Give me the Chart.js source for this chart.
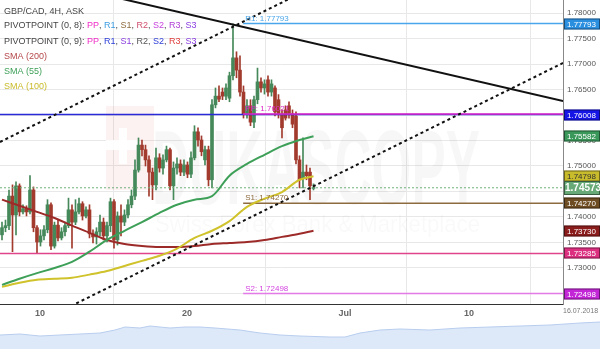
<!DOCTYPE html>
<html>
<head>
<meta charset="utf-8">
<script src="https://cdn.jsdelivr.net/npm/chart.js@4.4.1/dist/chart.umd.min.js"></script>
<style>
  html, body { margin: 0; padding: 0; background: #fff; }
  #wrap { position: relative; width: 600px; height: 349px; overflow: hidden; }
  #main { position: absolute; left: 0; top: 0; }
  #nav { position: absolute; left: 0; top: 318px; }
</style>
</head>
<body>
<div id="wrap">
  <canvas id="main" width="600" height="318" style="width:600px;height:318px"></canvas>
  <canvas id="nav" width="600" height="31" style="width:600px;height:31px"></canvas>
</div>
<script>
// GBP/CAD 4H candles (one per 4 hours)
const opens = [
  1.7365,1.7379,1.7383,1.7441,1.7404,1.7461,1.7410,1.7416,1.7410,1.7453,
  1.7379,1.7351,1.7363,1.7375,1.7424,1.7343,1.7384,1.7359,1.7371,1.7383,
  1.7414,1.7390,1.7410,1.7426,1.7402,1.7414,1.7367,1.7361,1.7371,1.7390,
  1.7363,1.7383,1.7430,1.7355,1.7402,1.7390,1.7404,1.7424,1.7441,1.7492,
  1.7541,1.7532,1.7512,1.7488,1.7463,1.7516,1.7496,1.7512,1.7532,1.7461,
  1.7496,1.7504,1.7488,1.7502,1.7484,1.7516,1.7567,1.7551,1.7512,1.7532,
  1.7473,1.7620,1.7637,1.7645,1.7637,1.7633,1.7677,1.7712,1.7688,1.7645,
  1.7602,1.7618,1.7586,1.7630,1.7665,1.7653,1.7669,1.7645,1.7653,1.7630,
  1.7602,1.7610,1.7618,1.7602,1.7598,1.7512,1.7477,1.7488,1.7488,1.7456
];
const highs = [
  1.7390,1.7394,1.7453,1.7463,1.7469,1.7465,1.7424,1.7422,1.7481,1.7459,
  1.7383,1.7375,1.7383,1.7434,1.7428,1.7390,1.7394,1.7379,1.7390,1.7437,
  1.7424,1.7434,1.7437,1.7430,1.7420,1.7424,1.7375,1.7379,1.7404,1.7398,
  1.7390,1.7437,1.7434,1.7410,1.7424,1.7414,1.7434,1.7453,1.7512,1.7555,
  1.7551,1.7541,1.7520,1.7496,1.7535,1.7524,1.7522,1.7539,1.7535,1.7508,
  1.7516,1.7512,1.7512,1.7508,1.7528,1.7579,1.7575,1.7559,1.7539,1.7539,
  1.7630,1.7653,1.7657,1.7653,1.7661,1.7684,1.7779,1.7724,1.7716,1.7657,
  1.7630,1.7630,1.7637,1.7692,1.7673,1.7669,1.7677,1.7669,1.7657,1.7640,
  1.7610,1.7618,1.7626,1.7610,1.7606,1.7520,1.7555,1.7502,1.7496,1.7465
];
const lows = [
  1.7355,1.7371,1.7375,1.7332,1.7365,1.7402,1.7406,1.7402,1.7406,1.7371,
  1.7330,1.7343,1.7355,1.7369,1.7336,1.7339,1.7353,1.7355,1.7363,1.7379,
  1.7339,1.7385,1.7406,1.7394,1.7398,1.7359,1.7349,1.7347,1.7363,1.7355,
  1.7351,1.7371,1.7339,1.7345,1.7363,1.7383,1.7398,1.7418,1.7434,1.7488,
  1.7520,1.7500,1.7441,1.7434,1.7453,1.7488,1.7484,1.7508,1.7453,1.7434,
  1.7484,1.7481,1.7481,1.7477,1.7477,1.7512,1.7539,1.7520,1.7502,1.7461,
  1.7457,1.7614,1.7626,1.7630,1.7630,1.7626,1.7669,1.7673,1.7637,1.7594,
  1.7594,1.7579,1.7575,1.7622,1.7645,1.7641,1.7637,1.7637,1.7598,1.7594,
  1.7555,1.7590,1.7594,1.7575,1.7504,1.7457,1.7457,1.7473,1.7434,1.7453
];
const closes = [
  1.7379,1.7383,1.7441,1.7404,1.7461,1.7410,1.7416,1.7410,1.7453,1.7379,
  1.7351,1.7363,1.7375,1.7424,1.7343,1.7384,1.7359,1.7371,1.7383,1.7414,
  1.7390,1.7410,1.7426,1.7402,1.7414,1.7367,1.7361,1.7371,1.7390,1.7363,
  1.7383,1.7430,1.7355,1.7402,1.7390,1.7404,1.7424,1.7441,1.7492,1.7541,
  1.7532,1.7512,1.7488,1.7463,1.7516,1.7496,1.7512,1.7532,1.7461,1.7496,
  1.7504,1.7488,1.7502,1.7484,1.7516,1.7567,1.7551,1.7528,1.7532,1.7473,
  1.7620,1.7637,1.7631,1.7637,1.7653,1.7677,1.7712,1.7688,1.7645,1.7602,
  1.7618,1.7586,1.7630,1.7665,1.7653,1.7661,1.7645,1.7661,1.7606,1.7602,
  1.7575,1.7594,1.7602,1.7582,1.7512,1.7473,1.7488,1.7481,1.7461,1.74573
];

// moving averages, sampled every 5 candles
const smaIdx = [0,5,10,15,20,25,30,35,40,45,50,55,60,65,70,75,80,85,89];
const sma55 = [1.7267,1.7279,1.7290,1.7300,1.7312,1.7332,1.7355,1.7373,1.7390,1.7408,1.7424,1.7434,1.7441,1.7481,1.7504,1.7522,1.7539,1.7551,1.75582];
const sma100 = [1.7263,1.7271,1.7277,1.7279,1.7281,1.7287,1.7294,1.7304,1.7314,1.7324,1.7338,1.7359,1.7373,1.7392,1.7420,1.7436,1.7449,1.7473,1.74798];
const sma200 = [1.7434,1.7422,1.7410,1.7398,1.7383,1.7369,1.7355,1.7347,1.7343,1.7341,1.7341,1.7343,1.7347,1.7349,1.7351,1.7355,1.7361,1.7367,1.73730];

// pivot levels and the candle where each one starts (-1 = whole chart)
const pivotValues = [1.77793, 1.76008, 1.76021, 1.74270, 1.73285, 1.72498];
const pivotStart = [68.9, -1, 68.9, 68.9, -1, 68.9];
const lastPrice = 1.74573;

// hand-drawn trend lines, two anchor points each (candle index, price)
const trendDown = [[-0.57, 1.78831], [160.3, 1.76275]];
const channelTop = [[-0.57, 1.75471], [90.9, 1.78577]];
const channelBottom = [[16.6, 1.72149], [160.3, 1.77020]];

// x axis
const dateTickIdx = [10.86, 52.86, 98, 133.43];
const dateTickLabels = ["10", "20", "Jul", "10"];
const xMin = -0.571, xMax = 160.29;
const yMin = 1.72294, yMax = 1.78255;

// navigator strip (relative level of the long-term price)
const navX = [0,20,40,60,80,100,115,125,140,150,170,185,200,215,240,260,280,300,330,345,360,380,400,430,460,490,520,550,580,600];
const navLevel = [14,15,13,14,15,16,19,22,21,23,21,22,22,21,19,16,14,13,12,12,16,19,20,19,21,22,23,24,26,27];

const FONT = '"Liberation Sans", Arial, sans-serif';
const GREEN = "#45885a";
const RED = "#a23b2e";

const candleColors = opens.map((o, i) => closes[i] >= o ? GREEN : RED);
const wickData = opens.map((o, i) => ({ x: i, y: [lows[i], highs[i]] }));
const bodyData = opens.map((o, i) => ({ x: i, y: [o, closes[i]] }));

const seg = (pts) => pts.map(p => ({ x: p[0], y: p[1] }));
const smaPts = (arr) => arr.map((v, k) => ({ x: smaIdx[k], y: v }));

const levelColors = ["#4aa6ea", "#2a2ad8", "#e028c8", "#8d6b3e", "#e0458c", "#e27ae8"];
const levelSets = pivotValues.map((v, k) => ({
  type: "line",
  data: [{ x: pivotStart[k] < 0 ? xMin : pivotStart[k], y: v }, { x: xMax, y: v }],
  borderColor: levelColors[k],
  borderWidth: 1.5,
  pointRadius: 0,
  order: k === 2 ? 5 : 6,
}));

// labels + badges + watermark + legend
const overlay = {
  id: "overlay",
  beforeDatasetsDraw(chart) {
    const ctx = chart.ctx;
    ctx.save();
    // logo block
    ctx.fillStyle = "rgba(225,40,40,0.06)";
    ctx.fillRect(106, 106, 48, 84);
    ctx.fillStyle = "rgba(255,255,255,0.9)";
    ctx.fillRect(119, 128, 8, 36);
    ctx.fillRect(106, 140, 32, 10);
    // DUKASCOPY
    ctx.font = "bold 100px " + FONT;
    ctx.textBaseline = "alphabetic";
    const w = ctx.measureText("DUKASCOPY").width;
    ctx.translate(152, 204);
    ctx.scale(328 / w, 1.05);
    ctx.fillStyle = "rgba(0,0,0,0.03)";
    ctx.fillText("DUKASCOPY", 0, 0);
    ctx.restore();
    ctx.save();
    ctx.font = "24px " + FONT;
    const w2 = ctx.measureText("Swiss Forex Bank & Marketplace").width;
    ctx.translate(155, 232);
    ctx.scale(325 / w2, 1);
    ctx.fillStyle = "rgba(0,0,0,0.025)";
    ctx.fillText("Swiss Forex Bank & Marketplace", 0, 0);
    ctx.restore();
  },
  afterDraw(chart) {
    const ctx = chart.ctx;
    const ys = chart.scales.y;
    const xs = chart.scales.x;
    ctx.save();

    // pivot text labels
    ctx.font = "8px " + FONT;
    ctx.textBaseline = "bottom";
    ctx.textAlign = "left";
    const lx = xs.getPixelForValue(68.9) + 2;
    [["R1: 1.77793", 1.77793, "#4aa6ea"], ["PP: 1.76021", 1.76021, "#e028c8"],
     ["S1: 1.74270", 1.74270, "#8d6b3e"], ["S2: 1.72498", 1.72498, "#d445e0"]].forEach(l => {
      ctx.fillStyle = l[2];
      ctx.fillText(l[0], lx, ys.getPixelForValue(l[1]) - 1);
    });

    // price badges on the right axis
    const badges = [
      [1.77793, "#2b8fe0", "#fff"], [1.76008, "#1515e6", "#fff"],
      [1.75582, "#3b985b", "#fff"], [1.74798, "#c8bb2c", "#333"],
      [1.74270, "#6e4d22", "#fff"], [1.73730, "#8b1c1c", "#fff"],
      [1.73285, "#dc2f80", "#fff"], [1.72498, "#c326d6", "#fff"],
      [lastPrice, "#68aa77", "#fff"],
    ];
    ctx.textBaseline = "middle";
    badges.forEach(b => {
      const y = Math.round(ys.getPixelForValue(b[0]));
      const big = b[0] === lastPrice;
      const h = big ? 14 : 11;
      ctx.fillStyle = b[1];
      ctx.fillRect(564, y - h / 2, 36, h);
      ctx.strokeStyle = "rgba(0,0,0,0.45)";
      ctx.lineWidth = 1;
      ctx.strokeRect(564.5, y - h / 2 + 0.5, 35, h - 1);
      ctx.fillStyle = b[2];
      ctx.font = (big ? "bold 10px " : "8px ") + FONT;
      ctx.fillText(b[0].toFixed(5), big ? 565 : 567, y + 0.5);
    });

    // date stamp
    ctx.font = "7px " + FONT;
    ctx.fillStyle = "#777";
    ctx.textBaseline = "middle";
    ctx.fillText("16.07.2018", 563, 311);

    // legend block
    const rows = [
      [["GBP/CAD, 4H, ASK", "#444"]],
      [["PIVOTPOINT (0, 8): ", "#444"], ["PP", "#f02cc8"], [", ", "#444"], ["R1", "#3c9ce0"], [", ", "#444"],
       ["S1", "#8d6b3e"], [", ", "#444"], ["R2", "#d0506e"], [", ", "#444"], ["S2", "#c842e0"], [", ", "#444"],
       ["R3", "#b040d8"], [", ", "#444"], ["S3", "#8a3ee0"]],
      [["PIVOTPOINT (0, 9): ", "#444"], ["PP", "#f02cc8"], [", ", "#444"], ["R1", "#2c3ed8"], [", ", "#444"],
       ["S1", "#8a3ee0"], [", ", "#444"], ["R2", "#555"], [", ", "#444"], ["S2", "#3040d8"], [", ", "#444"],
       ["R3", "#e03c3c"], [", ", "#444"], ["S3", "#8a3ee0"]],
      [["SMA (200)", "#b5474a"]],
      [["SMA (55)", "#3ea058"]],
      [["SMA (100)", "#c9bb2a"]],
    ];
    const rowY = [12, 26, 42, 57, 72, 87];
    ctx.font = "9px " + FONT;
    ctx.textBaseline = "middle";
    rows.forEach((r, k) => {
      let x = 4;
      r.forEach(s => {
        ctx.fillStyle = s[1];
        ctx.fillText(s[0], x, rowY[k]);
        x += ctx.measureText(s[0]).width;
      });
    });
    ctx.restore();
  },
};

new Chart(document.getElementById("main"), {
  type: "bar",
  data: {
    datasets: [
      { type: "line", data: seg(trendDown), borderColor: "#111", borderWidth: 2, pointRadius: 0, order: 1 },
      { type: "line", data: seg(channelTop), borderColor: "#111", borderWidth: 2, borderDash: [3, 3], pointRadius: 0, order: 1 },
      { type: "line", data: seg(channelBottom), borderColor: "#111", borderWidth: 2, borderDash: [3, 3], pointRadius: 0, order: 1 },
      { type: "line", data: smaPts(sma55), borderColor: "#3ea058", borderWidth: 2, pointRadius: 0, cubicInterpolationMode: "monotone", order: 2 },
      { type: "line", data: smaPts(sma100), borderColor: "#cfc22a", borderWidth: 2, pointRadius: 0, cubicInterpolationMode: "monotone", order: 2 },
      { type: "line", data: smaPts(sma200), borderColor: "#9c2a28", borderWidth: 2, pointRadius: 0, cubicInterpolationMode: "monotone", order: 2 },
      ...levelSets,
      { type: "line", data: [{ x: xMin, y: lastPrice }, { x: xMax, y: lastPrice }], borderColor: "#6fb07a", borderWidth: 1, borderDash: [2, 2], pointRadius: 0, order: 7 },
      { data: bodyData, backgroundColor: candleColors, barThickness: 3, minBarLength: 1, grouped: false, order: 8 },
      { data: wickData, backgroundColor: candleColors, barThickness: 1, grouped: false, order: 9 },
    ],
  },
  options: {
    responsive: false,
    animation: false,
    layout: { padding: 0 },
    plugins: { legend: { display: false }, tooltip: { enabled: false } },
    scales: {
      x: {
        type: "linear",
        min: xMin,
        max: xMax,
        offset: false,
        afterBuildTicks: (s) => { s.ticks = dateTickIdx.map(v => ({ value: v })); },
        afterFit: (s) => { s.height = 14; s.paddingLeft = 0; s.paddingRight = 0; },
        grid: { color: "#e8e8e8", drawTicks: false },
        border: { color: "#333", width: 1 },
        ticks: {
          autoSkip: false,
          maxRotation: 0,
          padding: 4,
          color: "#666",
          font: { family: FONT, size: 9, weight: "bold" },
          callback: (v, i) => dateTickLabels[i],
        },
      },
      y: {
        type: "linear",
        position: "right",
        min: yMin,
        max: yMax,
        afterFit: (s) => { s.width = 37; s.paddingTop = 0; s.paddingBottom = 0; },
        grid: { color: "#e8e8e8", drawTicks: false },
        border: { color: "#888", width: 1 },
        ticks: {
          stepSize: 0.005,
          includeBounds: false,
          padding: 4,
          color: "#555",
          font: { family: FONT, size: 8 },
          callback: (v) => v.toFixed(5),
        },
      },
    },
  },
  plugins: [overlay],
});

// navigator strip
new Chart(document.getElementById("nav"), {
  type: "line",
  data: {
    datasets: [{
      data: navX.map((x, k) => ({ x: x, y: navLevel[k] })),
      borderColor: "#b8cdee",
      backgroundColor: "#dde9f9",
      borderWidth: 1,
      fill: "start",
      pointRadius: 0,
    }],
  },
  options: {
    responsive: false,
    animation: false,
    layout: { padding: 0 },
    plugins: { legend: { display: false }, tooltip: { enabled: false } },
    scales: {
      x: { type: "linear", min: 0, max: 600, display: false },
      y: { min: 0, max: 31, display: false },
    },
  },
});
</script>
</body>
</html>
